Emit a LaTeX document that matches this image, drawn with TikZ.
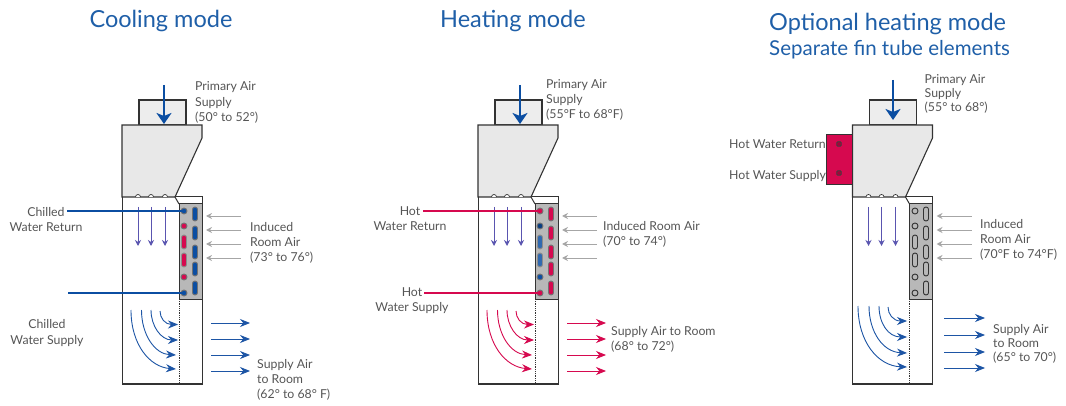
\documentclass[tikz,border=0pt]{standalone}
\usepackage{fontspec}
\setmainfont{Lato}
\usetikzlibrary{arrows.meta}
\definecolor{titleblue}{HTML}{1F5FA8}
\definecolor{pipeblue}{HTML}{0B4EA2}
\definecolor{pipered}{HTML}{D6094F}
\definecolor{airblue}{HTML}{1D55A5}
\definecolor{purpleair}{HTML}{5A55B0}
\definecolor{txt}{HTML}{555555}
\definecolor{edgec}{HTML}{333333}
\tikzset{
  x=1pt,y=-1pt,
  lbl/.style={inner sep=0pt,text=txt,align=left,anchor=west,font=\fontsize{12.3}{15.2}\selectfont},
  clbl/.style={lbl,align=center,anchor=center},
  ttl/.style={inner sep=0pt,text=titleblue,font=\fontsize{23.5}{26}\selectfont},
  ttlb/.style={inner sep=0pt,text=titleblue,font=\fontsize{20.5}{24}\selectfont},
  casing/.style={draw=edgec,line width=1pt},
  hopper/.style={draw=edgec,line width=1.1pt,fill=black!9},
  duct/.style={draw=edgec,line width=1.1pt,fill=black!7},
  coilbox/.style={draw=edgec,line width=1pt,fill=black!28},
  primary/.style={draw=pipeblue,line width=2.4pt,-{Stealth[length=11pt,width=15pt,inset=3pt]}},
  induced/.style={draw=black!35,line width=.9pt,-{Stealth[length=6pt,width=6pt]}},
  downair/.style={draw=purpleair,line width=.9pt,-{Stealth[length=6pt,width=6pt]},},
  curvair/.style={line width=.9pt,-{Stealth[length=10pt,width=8pt]}},
  pipeline/.style={line width=2.6pt,line cap=butt},
  tubec/.style={circle,minimum size=6pt,inner sep=0pt,line width=.9pt},
  tubeo/.style={rounded corners=2.4pt,minimum width=5pt,inner sep=0pt,line width=.9pt,rectangle},
}
\newcommand{\hvacbody}[3]{% name prefix, offset, tube style
  \begin{scope}[xshift=#2pt]
    \draw[casing,fill=white] (122,197) rectangle (202,384);
    \draw[line width=1.6pt,edgec] (122,384) -- (202,384);
    \draw[casing] (175,197) -- (179,204);
    \draw[duct] (139,125) rectangle (186,100);
    \draw[hopper] (122,125) -- (202,125) -- (202,138) -- (175,197) -- (122,197) -- cycle;
    \foreach \nx in {138,151,165}{
      \draw[edgec,line width=.7pt,fill=white] (\nx-2.5,197) arc[start angle=180,end angle=360,radius=2.5];
      \draw[downair] (\nx,207) -- (\nx,246);
    }
    \draw[coilbox] (179,204) rectangle (202,299);
    \draw[edgec,line width=.8pt,densely dotted] (179,299) -- (179,384);
    \foreach \iy in {216,230,244,258}{\draw[induced] (241,\iy) -- (206,\iy);}
  \end{scope}
}
\newcommand{\curvesabc}[2]{% offset, colour
  \begin{scope}[xshift=#1pt]
    \draw[curvair,#2] (131,310) .. controls (131,345) and (150,367) .. (176,369);
    \draw[curvair,#2] (141.5,310) .. controls (141.5,335) and (155,354) .. (176,355);
    \draw[curvair,#2] (151,310) .. controls (151,326) and (161,340) .. (178,340);
    \draw[curvair,#2] (160,311) .. controls (160,318) and (165,324.5) .. (178,324.5);
    \foreach \sy in {323,339,355,371}{\draw[curvair,#2] (211,\sy) -- (250,\sy);}
  \end{scope}
}
\begin{document}
\begin{tikzpicture}
\useasboundingbox (0,0) rectangle (1066,406);
% titles
\node[ttl] (t1) at (161,21) {Cooling mode};
\node[ttl] (t2) at (513,21) {Heating mode};
\node[ttl,anchor=west] (t3) at (769,24) {Optional heating mode};
\node[ttlb,anchor=west] (t3b) at (769,50) {Separate fin tube elements};

% ---------- unit 1
\hvacbody{a}{0}{}
\curvesabc{0}{airblue}
\foreach \n/\y/\c in {a1/211/pipeblue,a2/226/pipered,a5/277/pipered,a6/293/pipeblue}{
  \node[tubec,fill=\c,draw=black!55] (\n) at (184,\y) {};}
\foreach \n/\y in {a3/242,a4/260}{
  \node[tubeo,minimum height=14pt,fill=pipered,draw=black!45] (\n) at (184,\y) {};}
\foreach \y in {214,233,252,269,288}{
  \node[tubeo,minimum height=14pt,fill=pipeblue,draw=black!55] at (195,\y) {};}
\coordinate (a1s) at (67,211);
\coordinate (a6s) at (68,293);
\draw[pipeline,pipeblue] (a1s) -- (a1.center);
\draw[pipeline,pipeblue] (a6s) -- (a6.center);
\coordinate (p1s) at (164,85); \coordinate (p1e) at (164,124);
\draw[primary] (p1s) -- (p1e);
\node[lbl] (l1) at (195,102.5) {Primary Air\\Supply\\(50° to 52°)};
\node[clbl] (l2) at (46,219.5) {Chilled\\Water Return};
\node[clbl] (l3) at (47,333) {Chilled\\Water Supply};
\node[lbl] (l4) at (250,243) {Induced\\Room Air\\(73° to 76°)};
\node[lbl] (l5) at (257,380) {Supply Air\\to Room\\(62° to 68° F)};

% ---------- unit 2
\hvacbody{b}{356}{}
\curvesabc{356}{pipered}
\foreach \n/\y/\c in {b1/211/pipered,b2/226/pipeblue!80!black,b5/277/pipeblue,b6/293/pipered}{
  \node[tubec,fill=\c,draw=black!55] (\n) at (540,\y) {};}
\foreach \n/\y in {b3/242,b4/260}{
  \node[tubeo,minimum height=14pt,fill=pipeblue!85,draw=black!45] (\n) at (540,\y) {};}
\foreach \y in {214,233,252,269,288}{
  \node[tubeo,minimum height=14pt,fill=pipered,draw=black!55] at (551,\y) {};}
\coordinate (b1s) at (423,211);
\coordinate (b6s) at (424,293);
\draw[pipeline,pipered] (b1s) -- (b1.center);
\draw[pipeline,pipered] (b6s) -- (b6.center);
\coordinate (p2s) at (520,85); \coordinate (p2e) at (520,124);
\draw[primary] (p2s) -- (p2e);
\node[lbl] (m1) at (546,100) {Primary Air\\Supply\\(55°F to 68°F)};
\node[clbl] (m2) at (410,218.5) {Hot\\Water Return};
\node[clbl] (m3) at (412,300.5) {Hot\\Water Supply};
\node[lbl] (m4) at (603,234.5) {Induced Room Air\\(70° to 74°)};
\node[lbl] (m5) at (611,339) {Supply Air to Room\\(68° to 72°)};

% ---------- unit 3
\hvacbody{c}{730.5}{}
\draw[draw=edgec,line width=.8pt,fill=pipered] (852,134) -- (826,134) -- (826,184) -- (852,184);
\node[draw=black!75,fill=black!25!pipered,minimum size=4.5pt,inner sep=0pt,rounded corners=1pt,line width=.9pt] (r1) at (839,144) {};
\node[draw=black!75,fill=black!25!pipered,minimum size=4.5pt,inner sep=0pt,rounded corners=1pt,line width=.9pt] (r2) at (839,173) {};
\foreach \y in {211,226,277,293}{
  \node[tubec,fill=black!28,draw=edgec] at (915,\y) {};}
\foreach \y in {242,260}{
  \node[tubeo,minimum height=14pt,fill=black!28,draw=edgec] at (915,\y) {};}
\foreach \y in {214,233,252,269,288}{
  \node[tubeo,minimum height=14pt,fill=black!28,draw=edgec] at (926,\y) {};}
\begin{scope}[xshift=730pt]
  \draw[curvair,airblue] (128,306) .. controls (128,342) and (148,366) .. (177,367);
  \draw[curvair,airblue] (139,306) .. controls (139,332) and (153,352) .. (177,353);
  \draw[curvair,airblue] (149,306) .. controls (149,323) and (158,337) .. (177,337);
  \draw[curvair,airblue] (158,307) .. controls (158,314) and (163,321) .. (177,321);
\end{scope}
\foreach \sy in {318,335,352,368}{\draw[curvair,airblue] (944,\sy) -- (985,\sy);}
\coordinate (p3s) at (893,80); \coordinate (p3e) at (893,120);
\draw[primary] (p3s) -- (p3e);
\node[lbl,font=\fontsize{12.3}{14.2}\selectfont] (n1) at (924.5,94) {Primary Air\\Supply\\(55° to 68°)};
\node[lbl] (n2) at (729,144) {Hot Water Return};
\node[lbl] (n3) at (729,176) {Hot Water Supply};
\node[lbl] (n4) at (980,240) {Induced\\Room Air\\(70°F to 74°F)};
\node[lbl,font=\fontsize{12.3}{14.2}\selectfont] (n5) at (993,344) {Supply Air\\to Room\\(65° to 70°)};
\end{tikzpicture}
\end{document}
